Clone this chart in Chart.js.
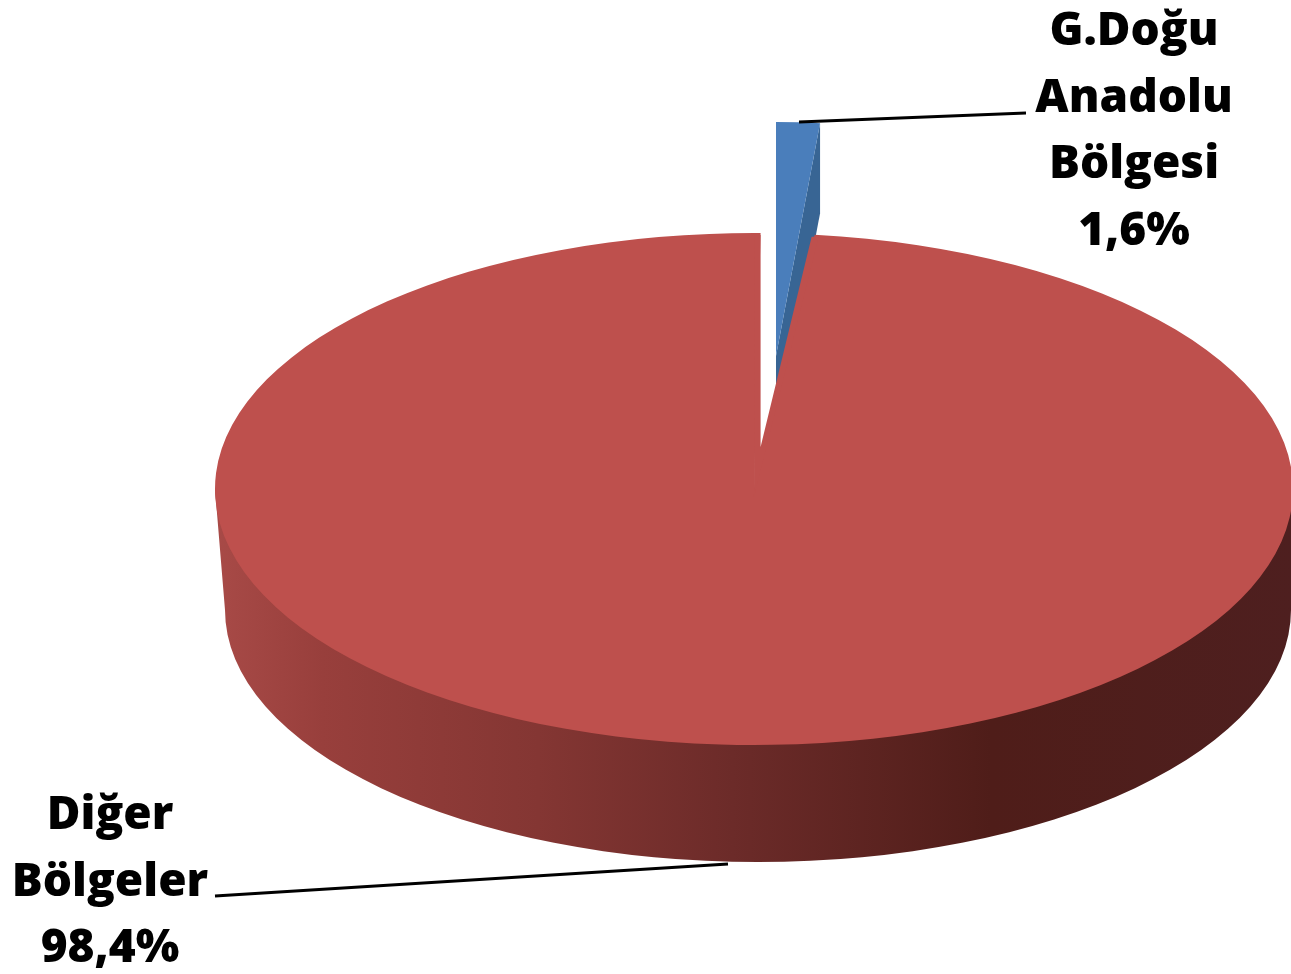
<!DOCTYPE html>
<html>
<head>
<meta charset="utf-8">
<title>Pie</title>
<script src="https://cdn.jsdelivr.net/npm/chart.js@4/dist/chart.umd.js"></script>
<style>
  html, body { margin: 0; padding: 0; background: #fff; overflow: hidden; }
  canvas { display: block; }
</style>
</head>
<body>
<canvas id="myChart" width="1291" height="974"></canvas>
<script>
// values
const categories = ['G.Doğu Anadolu Bölgesi', 'Diğer Bölgeler'];
const shares = [1.6, 98.4];
const sliceColors = ['#4a7ebb', '#be504d'];
const blueLabelLines = ['G.Doğu', 'Anadolu', 'Bölgesi', '1,6%'];
const redLabelLines = ['Diğer', 'Bölgeler', '98,4%'];

// pie geometry on the page
const pieX = 754, pieY = 489, pieRx = 539, pieRy = 256;
const apexY = 447;            // perspective moves the visible apex above the ellipse centre
const startDeg = 0.7;
const wallDrop = 121, wallRx = 533, wallRy = 252, wallShift = 4;
const blueX = 776, blueY = 356, blueRx = 439, blueRy = 234, blueDepth = 90;
const labelFont = '800 46px "Open Sans"';

function wallGradient(ctx) {
  const g = ctx.createLinearGradient(pieX - pieRx, 0, pieX + pieRx, 0);
  g.addColorStop(0, '#a84a47');
  g.addColorStop(0.1, '#983f3c');
  g.addColorStop(0.3, '#843633');
  g.addColorStop(0.48, '#6c2b29');
  g.addColorStop(0.72, '#4f1d19');
  g.addColorStop(1, '#4e1f1f');
  return g;
}

function drawBlue(ctx, arc) {
  const span = arc.endAngle - arc.startAngle;
  const endA = -Math.PI / 2 + span;
  const rightX = blueX + blueRx * Math.cos(endA);
  const rightY = blueY + blueRy * Math.sin(endA);
  ctx.save();
  ctx.fillStyle = '#386594';
  ctx.beginPath();
  ctx.moveTo(blueX, blueY);
  ctx.lineTo(rightX, rightY);
  ctx.lineTo(rightX, rightY + blueDepth);
  ctx.lineTo(blueX, blueY + blueDepth);
  ctx.closePath();
  ctx.fill();
  ctx.translate(blueX, blueY);
  ctx.scale(blueRx / arc.outerRadius, blueRy / arc.outerRadius);
  ctx.rotate(-startDeg * Math.PI / 180);
  ctx.translate(-arc.x, -arc.y);
  arc.draw(ctx);
  ctx.restore();
}

function drawRed(ctx, arc) {
  ctx.save();
  // side wall, the top face covers most of it
  ctx.fillStyle = wallGradient(ctx);
  ctx.beginPath();
  ctx.moveTo(pieX - pieRx, pieY);
  ctx.lineTo(pieX + wallShift - wallRx, pieY + wallDrop);
  ctx.ellipse(pieX + wallShift, pieY + wallDrop, wallRx, wallRy, 0, Math.PI, 0, true);
  ctx.lineTo(pieX + pieRx, pieY);
  ctx.closePath();
  ctx.fill();

  ctx.save();
  ctx.translate(pieX, pieY);
  ctx.scale(1, pieRy / pieRx);
  ctx.translate(-arc.x, -arc.y);
  arc.draw(ctx);
  ctx.restore();

  // raise the apex of the gap, overlapping the arc so no seam shows
  const leftX = pieX + pieRx * Math.cos(arc.endAngle), leftY = pieY + pieRy * Math.sin(arc.endAngle);
  const rightX = pieX + pieRx * Math.cos(arc.startAngle), rightY = pieY + pieRy * Math.sin(arc.startAngle);
  ctx.fillStyle = arc.options.backgroundColor;
  ctx.beginPath();
  ctx.moveTo(pieX, pieY + 8);
  ctx.lineTo(leftX - 6, leftY + 2);
  ctx.lineTo(leftX, leftY + 2);
  ctx.lineTo(leftX, apexY);
  ctx.lineTo(rightX - 3, rightY + 2);
  ctx.lineTo(rightX + 4, rightY + 2);
  ctx.closePath();
  ctx.fill();
  ctx.restore();
}

function drawLines(ctx, lines, x, firstBase, step) {
  ctx.font = labelFont;
  ctx.textAlign = 'center';
  ctx.fillStyle = '#000';
  lines.forEach((line, i) => ctx.fillText(line, x, firstBase + i * step));
}

const pie3d = {
  id: 'pie3d',
  beforeDatasetDraw(chart) {
    const ctx = chart.ctx;
    const arcs = chart.getDatasetMeta(0).data;
    drawBlue(ctx, arcs[0]);
    drawRed(ctx, arcs[1]);
    return false;
  },
  afterDraw(chart) {
    const ctx = chart.ctx;
    ctx.save();
    ctx.strokeStyle = '#000';
    ctx.lineWidth = 3;
    ctx.beginPath();
    ctx.moveTo(799, 122);
    ctx.lineTo(1026, 113);
    ctx.moveTo(215, 896);
    ctx.lineTo(728, 864);
    ctx.stroke();
    drawLines(ctx, blueLabelLines, 1134, 45, 66.5);
    drawLines(ctx, redLabelLines, 110, 829, 66.5);
    ctx.restore();
  }
};

new Chart(document.getElementById('myChart').getContext('2d'), {
  type: 'pie',
  data: {
    labels: categories,
    datasets: [{
      data: shares,
      backgroundColor: sliceColors,
      borderWidth: 0
    }]
  },
  options: {
    responsive: false,
    animation: false,
    radius: pieRx,
    rotation: startDeg,
    events: [],
    plugins: { legend: { display: false }, tooltip: { enabled: false } }
  },
  plugins: [pie3d]
});
</script>
</body>
</html>
